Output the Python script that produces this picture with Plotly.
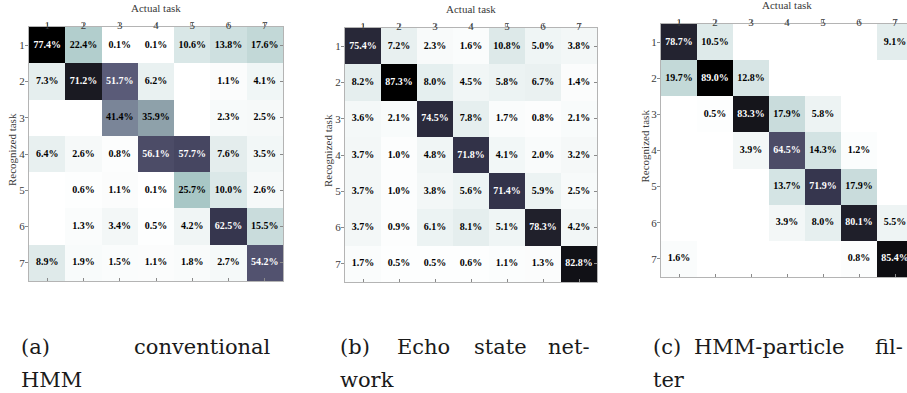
import plotly.graph_objects as go

# ---------------- data ----------------
tasks = [1, 2, 3, 4, 5, 6, 7]
tick_labels = ["1", "2", "3", "4", "5", "6", "7"]

# rows = recognized task, columns = actual task (None = empty cell)
conventional_hmm = [
    [77.4, 22.4, 0.1, 0.1, 10.6, 13.8, 17.6],
    [7.3, 71.2, 51.7, 6.2, None, 1.1, 4.1],
    [None, None, 41.4, 35.9, None, 2.3, 2.5],
    [6.4, 2.6, 0.8, 56.1, 57.7, 7.6, 3.5],
    [None, 0.6, 1.1, 0.1, 25.7, 10.0, 2.6],
    [None, 1.3, 3.4, 0.5, 4.2, 62.5, 15.5],
    [8.9, 1.9, 1.5, 1.1, 1.8, 2.7, 54.2],
]
echo_state = [
    [75.4, 7.2, 2.3, 1.6, 10.8, 5.0, 3.8],
    [8.2, 87.3, 8.0, 4.5, 5.8, 6.7, 1.4],
    [3.6, 2.1, 74.5, 7.8, 1.7, 0.8, 2.1],
    [3.7, 1.0, 4.8, 71.8, 4.1, 2.0, 3.2],
    [3.7, 1.0, 3.8, 5.6, 71.4, 5.9, 2.5],
    [3.7, 0.9, 6.1, 8.1, 5.1, 78.3, 4.2],
    [1.7, 0.5, 0.5, 0.6, 1.1, 1.3, 82.8],
]
hmm_particle = [
    [78.7, 10.5, None, None, None, None, 9.1],
    [19.7, 89.0, 12.8, None, None, None, None],
    [None, 0.5, 83.3, 17.9, 5.8, None, None],
    [None, None, 3.9, 64.5, 14.3, 1.2, None],
    [None, None, None, 13.7, 71.9, 17.9, None],
    [None, None, None, 3.9, 8.0, 80.1, 5.5],
    [1.6, None, None, None, None, 0.8, 85.4],
]
x_title = "Actual task"
y_title = "Recognized task"

# ---------------- layout helpers ----------------
W, H = 907, 393
def px(x):
    return x / W
def py(y):
    return 1 - y / H

# reversed "bone"-like colour map, fitted to the reference shades
bone_r = [[0.0, "rgb(255,255,255)"], [0.14, "rgb(216,230,230)"],
          [0.33, "rgb(168,200,198)"], [0.46, "rgb(143,163,171)"],
          [0.535, "rgb(122,133,152)"], [0.67, "rgb(90,90,120)"],
          [0.81, "rgb(53,53,77)"], [0.92, "rgb(26,26,34)"],
          [1.0, "rgb(0,0,0)"]]

# panel boxes in pixels: left, right, top, bottom
panels = [
    dict(data=conventional_hmm, l=29, r=283, t=27, b=281),
    dict(data=echo_state, l=345, r=597, t=28, b=282),
    dict(data=hmm_particle, l=661, r=913, t=24, b=277),
]

fig = go.Figure()
SERIF = "Liberation Serif"
axis_col = "#b4b4b4"
tick_font = dict(family=SERIF, size=11, color="#3a3a3a")

for i, p in enumerate(panels):
    n = i + 1
    data = p["data"]
    zmax = max(v for row in data for v in row if v is not None)
    right_vis = min(p["r"], W)
    clipped = p["r"] > W
    cell = (p["r"] - p["l"]) / 7.0
    xr_hi = 0.5 + (right_vis - p["l"]) / cell

    xa = "x" if n == 1 else f"x{n}"
    ya = "y" if n == 1 else f"y{n}"
    fig.add_trace(go.Heatmap(
        x=tasks, y=tasks, z=data, zmin=0, zmax=zmax,
        colorscale=bone_r, showscale=False, hoverongaps=False,
        xaxis=xa, yaxis=ya,
    ))
    tx, ty, tt, tc = [], [], [], []
    for r, row in enumerate(data):
        for c, v in enumerate(row):
            if v is None:
                continue
            tx.append(tasks[c]); ty.append(tasks[r])
            tt.append(f"<b>{v:.1f}%</b>")
            tc.append("white" if v / zmax > 0.6 else "black")
    fig.add_trace(go.Scatter(
        x=tx, y=ty, text=tt, mode="text",
        textfont=dict(family=SERIF, size=10, color=tc),
        xaxis=xa, yaxis=ya, showlegend=False, hoverinfo="skip",
        cliponaxis=True,
    ))

    xdom = [px(p["l"]), px(right_vis)]
    ydom = [py(p["b"]), py(p["t"])]
    common = dict(showgrid=False, zeroline=False, showline=True,
                  linecolor=axis_col, linewidth=1,
                  ticks="outside", ticklen=3, tickcolor="#8a8a8a",
                  tickfont=tick_font, tickvals=tasks, ticktext=tick_labels,
                  fixedrange=True)
    fig.update_layout(**{
        f"xaxis{n}": dict(domain=xdom, range=[0.5, xr_hi], side="top",
                          anchor=ya, ticklabelstandoff=-10, mirror=True,
                          **common),
        f"yaxis{n}": dict(domain=ydom, range=[7.5, 0.5],
                          anchor=xa, ticklabelstandoff=-2,
                          mirror=(not clipped), **common),
    })
    # inside ticks on bottom and right
    m = n + 3
    fig.update_layout(**{
        f"xaxis{m}": dict(domain=xdom, range=[0.5, xr_hi], side="bottom",
                          overlaying=xa, anchor=f"y{m}", showgrid=False,
                          zeroline=False, showline=False, ticks="inside",
                          ticklen=3, tickcolor="#8a8a8a", tickvals=tasks,
                          showticklabels=False, fixedrange=True),
        f"yaxis{m}": dict(domain=ydom, range=[7.5, 0.5], side="right",
                          overlaying=ya, anchor=f"x{m}", showgrid=False,
                          zeroline=False, showline=False,
                          ticks="" if clipped else "inside",
                          ticklen=3, tickcolor="#8a8a8a", tickvals=tasks,
                          showticklabels=False, fixedrange=True),
    })
    fig.add_trace(go.Scatter(x=[None], y=[None], xaxis=f"x{m}", yaxis=f"y{m}",
                             showlegend=False, hoverinfo="skip"))

    # axis titles
    fig.add_annotation(text=x_title, xref="paper", yref="paper",
                       x=px((p["l"] + p["r"]) / 2), y=py(p["t"] - 19),
                       xanchor="center", yanchor="middle", showarrow=False,
                       font=dict(family=SERIF, size=11, color="#3a3a3a"))
    fig.add_annotation(text=y_title, xref="paper", yref="paper",
                       x=px(p["l"] - 17), y=py((p["t"] + p["b"]) / 2 - 4),
                       xanchor="center", yanchor="middle", showarrow=False,
                       textangle=-90,
                       font=dict(family=SERIF, size=11, color="#3a3a3a"))

# ---------------- captions ----------------
cap_font = dict(family="DejaVu Serif", size=21, color="#1a1a1a")
caption_words = [
    ("(a)", 19, 347, "left"), ("conventional", 273, 347, "right"),
    ("HMM", 19, 380, "left"),
    ("(b)", 338, 347, "left"), ("Echo", 395, 347, "left"),
    ("state", 472, 347, "left"), ("net-", 592, 347, "right"),
    ("work", 338, 380, "left"),
    ("(c)", 651, 347, "left"), ("HMM-particle", 692, 347, "left"),
    ("fil-", 905, 347, "right"),
    ("ter", 651, 380, "left"),
]
for txt, x, y, anc in caption_words:
    fig.add_annotation(text=txt, xref="paper", yref="paper", x=px(x), y=py(y),
                       xanchor=anc, yanchor="middle", showarrow=False,
                       font=cap_font)

fig.update_layout(width=W, height=H, margin=dict(l=0, r=0, t=0, b=0),
                  paper_bgcolor="white", plot_bgcolor="white",
                  showlegend=False)
fig.write_html("out.html", config={"displayModeBar": False},
               post_script="document.body.style.margin='0';"
                           "document.body.style.padding='0';")
